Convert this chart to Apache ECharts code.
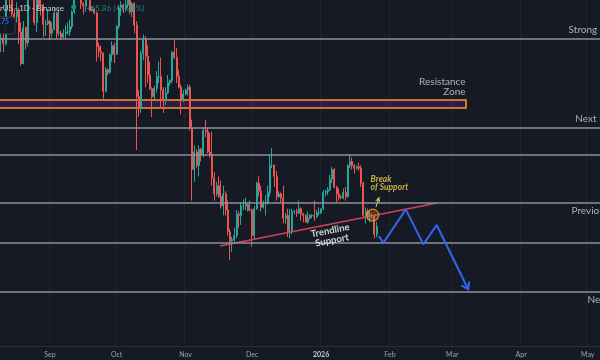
<!DOCTYPE html>
<html><head><meta charset="utf-8">
<script src="https://cdn.jsdelivr.net/npm/echarts@6/dist/echarts.min.js"></script>
<style>html,body{margin:0;padding:0;background:#161a25;overflow:hidden}#c{width:600px;height:360px}</style>
</head><body><div id="c"></div>
<script>
// ---- axis / calendar ----
const chartStart = '2025-07-31';
const totalDays = 280;            // category slots (one per day)
const candleStartIndex = 10;      // 2025-08-10
const monthNames = {'01':'Jan','02':'Feb','03':'Mar','04':'Apr','05':'May','06':'Jun','07':'Jul','08':'Aug','09':'Sep','10':'Oct','11':'Nov','12':'Dec'};

// ---- daily candles [open, high, low, close] ----
const aug = [
 [4255,4330,4160,4263],[4263,4370,4160,4222],[4222,4620,4210,4600],[4600,4790,4590,4770],
 [4770,4790,4460,4550],[4550,4680,4370,4442],[4442,4480,4400,4422],[4422,4530,4380,4475],
 [4475,4490,4220,4310],[4310,4380,4060,4075],[4075,4390,4070,4340],[4340,4350,4180,4230],
 [4230,4880,4200,4830],[4830,4840,4710,4780],[4780,4956,4700,4780],[4780,4790,4360,4380],
 [4380,4640,4310,4600],[4600,4650,4480,4510],[4510,4590,4430,4505],[4505,4520,4270,4365],
 [4365,4400,4280,4370],[4370,4480,4360,4390]
];
const sep = [
 [4390,4400,4250,4300],[4300,4380,4270,4330],[4330,4490,4320,4450],[4450,4460,4260,4300],
 [4300,4490,4280,4300],[4300,4320,4250,4270],[4270,4330,4260,4300],[4300,4360,4260,4310],
 [4310,4380,4290,4310],[4310,4400,4280,4350],[4350,4470,4330,4460],[4460,4720,4440,4710],
 [4710,4770,4640,4660],[4660,4680,4590,4600],[4600,4670,4480,4520],[4520,4530,4440,4500],
 [4500,4600,4460,4590],[4590,4640,4570,4590],[4590,4600,4460,4470],[4470,4500,4460,4480],
 [4480,4490,4440,4450],[4450,4460,4090,4200],[4200,4230,4120,4165],[4165,4210,4090,4150],
 [4150,4160,3815,3870],[3870,4050,3860,4030],[4030,4040,3990,4010],[4010,4150,4000,4140],
 [4140,4240,4090,4210],[4210,4230,4080,4145]
];
const oct = [
 [4145,4360,4140,4350],[4350,4510,4330,4490],[4490,4540,4430,4510],[4510,4520,4450,4480],
 [4480,4590,4460,4510],[4510,4750,4490,4690],[4690,4750,4440,4460],[4460,4530,4420,4520],
 [4520,4530,4300,4360],[4360,4390,3435,3830],[3830,3880,3680,3750],[3750,4170,3710,4150],
 [4150,4290,4100,4250],[4250,4280,3900,4130],[4130,4210,3930,3990],[3990,4090,3880,3890],
 [3890,3900,3680,3830],[3830,3910,3810,3890],[3890,4020,3860,3980],[3980,4090,3930,3980],
 [3980,4120,3740,3880],[3880,3900,3710,3800],[3800,3900,3770,3860],[3860,3990,3850,3935],
 [3935,3960,3910,3950],[3950,4170,3930,4160],[4160,4250,4110,4120],[4120,4190,3930,3980],
 [3980,4030,3890,3900],[3900,3920,3700,3810],[3810,3880,3790,3850]
];
const nov = [
 [3850,3890,3840,3880],[3880,3920,3840,3900],[3900,3920,3580,3600],[3600,3660,3060,3290],
 [3290,3470,3200,3420],[3420,3440,3300,3320],[3320,3470,3240,3440],[3440,3450,3350,3400],
 [3400,3600,3380,3580],[3580,3660,3530,3570],[3570,3600,3410,3420],[3420,3560,3380,3400],
 [3400,3570,3170,3230],[3230,3270,3060,3110],[3110,3200,3090,3170],[3170,3240,3080,3090],
 [3090,3210,3000,3020],[3020,3170,2950,3110],[3110,3130,2950,2990],[2990,3060,2800,2830],
 [2830,2850,2620,2760],[2760,2790,2680,2770],[2770,2860,2750,2800],[2800,2990,2780,2960],
 [2960,2980,2860,2950],[2950,3050,2880,3020],[3020,3070,2990,3020],[3020,3080,2990,3030],
 [3030,3040,2980,2990],[2990,3060,2980,2990]
];
const dec = [
 [2990,3000,2720,2800],[2800,3020,2770,3000],[3000,3200,2990,3190],[3190,3240,3090,3130],
 [3130,3170,2980,3010],[3010,3060,3000,3040],[3040,3100,2950,3050],[3050,3170,3030,3120],
 [3120,3400,3090,3320],[3320,3450,3300,3320],[3320,3330,3160,3240],[3240,3280,3060,3090],
 [3090,3130,3080,3110],[3110,3120,3050,3080],[3080,3170,2890,2930],[2930,2970,2890,2950],
 [2950,3000,2790,2830],[2830,3000,2780,2830],[2830,3000,2810,2980],[2980,2990,2960,2980],
 [2980,3000,2940,2970],[2970,3060,2960,3000],[3000,3010,2910,2960],[2960,2970,2900,2950],
 [2950,2960,2900,2900],[2900,2980,2890,2930],[2930,2960,2920,2950],[2950,2960,2930,2950],
 [2950,3060,2910,2940],[2940,2990,2930,2970],[2970,3010,2950,2970]
];
const jan = [
 [2970,3000,2960,3000],[3000,3140,2990,3120],[3120,3140,3090,3130],[3130,3160,3100,3140],
 [3140,3250,3130,3220],[3220,3310,3190,3290],[3290,3300,3150,3160],[3160,3170,3050,3110],
 [3110,3150,3060,3085],[3085,3100,3070,3080],[3080,3150,3070,3120],[3120,3160,3060,3090],
 [3090,3330,3080,3320],[3320,3400,3300,3350],[3350,3380,3290,3320],[3320,3330,3260,3300],
 [3300,3320,3290,3310],[3310,3340,3280,3300],[3300,3320,3160,3190],[3190,3200,2930,2950],
 [2950,3010,2890,2980],[2980,3000,2920,2950],[2950,2980,2900,2950],[2950,2970,2920,2950],
 [2950,2960,2780,2810],[2810,2900,2790,2870]
];

// ---- drawing annotations (x = day index from chartStart, y = price) ----
const levelPrices = [4258, 3598, 3398, 3042, 2746, 2383];
const levelLabels = [
 {text:'Strong Resistance', x:265.6, price:4258, dy:-8.5},
 {text:'Next Resistance',   x:268.6, price:3598, dy:-8.5},
 {text:'Previous Support',  x:266.9, price:3042, dy:8.5},
 {text:'Next Support',      x:274.1, price:2383, dy:8}
];
const zone = {x0:-0.5, x1:219.2, top:3805, bottom:3746};
const zoneLabel = {text:'Resistance\nZone', x:219.2, price:3898};
const trendline = [[108.5,2724],[206.2,3042]];
const trendLabel = {text:'Trendline\nSupport', x:158.7, price:2798};
const projection = [[180.05,2798],[182.0,2746],[192.1,2995],[200.0,2736],[206.0,2879],[220.2,2403]];
const breakPoint = [177.2,2953];
const breakArrow = [[178.7,3012],[180.1,3087]];
const breakLabel = {text:'Break\nof Support', x:176.5, price:3185};

// ---- build ----
const categories = [];
{
  const d0 = new Date(chartStart + 'T00:00:00Z');
  for (let i = 0; i < totalDays; i++) {
    const d = new Date(d0.getTime() + i * 86400000);
    categories.push(d.toISOString().slice(0,10));
  }
}
const allCandles = [].concat(aug, sep, oct, nov, dec, jan);
const candleData = allCandles.map((c, i) => [candleStartIndex + i, c[0], c[3], c[2], c[1]]);
const isMonthStart = (idx, val) => categories[idx] && categories[idx].slice(8) === '01';

const FONT = 'Lato, "Open Sans", sans-serif';
const chart = echarts.init(document.getElementById('c'), null, {renderer:'canvas'});
const option = {
  backgroundColor: '#161a25',
  animation: false,
  grid: {left: -22.222, right: 0, top: 0, bottom: 14, containLabel: false, outerBoundsMode: 'none'},
  xAxis: [{
    type: 'category', data: categories, boundaryGap: true,
    axisLine: {show: true, lineStyle: {color: '#2a2e39'}},
    axisTick: {show: false},
    axisLabel: {
      interval: isMonthStart, margin: 5, color: '#9ea1aa', fontSize: 7, fontFamily: FONT, hideOverlap: false,
      formatter: v => v.slice(5,7) === '01' ? '{y|' + v.slice(0,4) + '}' : monthNames[v.slice(5,7)],
      rich: {y: {fontWeight: 'bold', color: '#c9ccd4', fontSize: 7, fontFamily: FONT}}
    },
    splitLine: {show: true, interval: isMonthStart, lineStyle: {color: '#1f2330', width: 1}}
  }, {
    type: 'value', min: -0.5, max: totalDays - 0.5, show: false
  }],
  yAxis: [{
    type: 'value', min: 1982.6, max: 4546.5, show: false,
    splitLine: {show: false}
  }],
  series: [
    {
      type: 'candlestick', xAxisIndex: 0, yAxisIndex: 0, data: candleData,
      encode: {x: 0, y: [1,2,3,4]}, barWidth: 1.6, clip: true,
      itemStyle: {color: '#26a69a', color0: '#ef5350', borderColor: '#26a69a', borderColor0: '#ef5350', borderWidth: 1}
    },
    {
      type: 'line', xAxisIndex: 1, yAxisIndex: 0, data: [], silent: true,
      markLine: {
        silent: true, symbol: ['none','none'], label: {show: false}, animation: false,
        lineStyle: {color: '#8e919a', width: 1.5, type: 'solid'},
        data: levelPrices.map(p => ({yAxis: p}))
      },
      markArea: {
        silent: true,
        itemStyle: {color: 'rgba(106,27,154,0.35)', borderColor: '#f39c1f', borderWidth: 1.5},
        data: [[{coord: [zone.x0, zone.top]}, {coord: [zone.x1, zone.bottom]}]]
      }
    },
    {
      type: 'line', xAxisIndex: 1, yAxisIndex: 0, data: trendline, symbol: 'none', silent: true,
      lineStyle: {color: '#d0435b', width: 1.5}
    },
    {
      id: 'proj', type: 'line', xAxisIndex: 1, yAxisIndex: 0, data: projection, symbol: 'none', silent: true,
      lineStyle: {color: '#3366f0', width: 2}, z: 5
    },
    {
      type: 'scatter', xAxisIndex: 1, yAxisIndex: 0, data: [breakPoint], symbolSize: 12, silent: true,
      itemStyle: {color: 'rgba(255,152,0,0.28)', borderColor: '#f0a030', borderWidth: 1.2}, z: 6
    },
    {
      type: 'line', xAxisIndex: 1, yAxisIndex: 0, data: [], silent: true,
      markLine: {
        silent: true, symbol: ['none','arrow'], symbolSize: [4,5], label: {show: false},
        lineStyle: {color: '#d9c35a', width: 1, type: 'solid'},
        data: [[{coord: breakArrow[0]}, {coord: breakArrow[1]}]]
      }
    },
    {
      type: 'scatter', xAxisIndex: 1, yAxisIndex: 0, symbolSize: 1, silent: true, z: 10,
      itemStyle: {color: 'rgba(0,0,0,0)'},
      data: [].concat(
        levelLabels.map(l => ({value: [l.x, l.price], label: {show: true, formatter: l.text, position: [0, l.dy], align: 'left', verticalAlign: 'middle', color: '#d1d4dc', fontSize: 10, fontFamily: FONT}})),
        [{value: [zoneLabel.x, zoneLabel.price], label: {show: true, formatter: zoneLabel.text, position: [0,0], align: 'right', verticalAlign: 'middle', color: '#d1d4dc', fontSize: 10, lineHeight: 10, fontFamily: FONT}}],
        [{value: [trendLabel.x, trendLabel.price], label: {show: true, formatter: trendLabel.text, position: [0,0], align: 'center', verticalAlign: 'middle', rotate: 11, color: '#ffffff', fontSize: 9.5, fontWeight: 'bold', lineHeight: 10, fontFamily: FONT}}],
        [{value: [breakLabel.x, breakLabel.price], label: {show: true, formatter: breakLabel.text, position: [0,0], align: 'left', verticalAlign: 'middle', color: '#f2d64b', fontSize: 8.5, fontStyle: 'italic', fontWeight: 'bold', lineHeight: 8, fontFamily: FONT}}]
      )
    }
  ],
  graphic: [
    {type: 'text', x: 64, y: 8, style: {text: 'Ethereum / TetherUS · 1D · Binance', align: 'right', verticalAlign: 'middle', fill: '#c9ccd4', font: '8px ' + FONT}, z: 20},
    {type: 'circle', shape: {cx: 73.7, cy: 7, r: 2.5}, style: {fill: '#089981'}, z: 20},
    {type: 'text', x: 86, y: 8, style: {text: '+65.86 (+2.84%)', align: 'left', verticalAlign: 'middle', fill: 'rgba(38,166,154,0.75)', font: '8px ' + FONT}, z: 20},
    {type: 'rect', shape: {x: -30, y: 17, width: 45, height: 17, r: 3}, style: {fill: 'rgba(19,23,34,0.92)', stroke: '#3a3e4a', lineWidth: 1}, z: 20},
    {type: 'text', x: 9, y: 22, style: {text: '.75', align: 'right', verticalAlign: 'middle', fill: '#2962ff', font: 'bold 7px ' + FONT}, z: 21}
  ]
};
chart.setOption(option);

// open-V arrow head at the end of the projected path
(function () {
  const n = projection.length;
  const tip = chart.convertToPixel({seriesId: 'proj'}, projection[n-1]);
  const prev = chart.convertToPixel({seriesId: 'proj'}, projection[n-2]);
  const ang = Math.atan2(prev[1]-tip[1], prev[0]-tip[0]);
  const len = 8, spread = 0.6;
  const a1 = [tip[0] + len*Math.cos(ang+spread), tip[1] + len*Math.sin(ang+spread)];
  const a2 = [tip[0] + len*Math.cos(ang-spread), tip[1] + len*Math.sin(ang-spread)];
  chart.setOption({graphic: option.graphic.concat([
    {type: 'polyline', shape: {points: [a1, tip, a2]}, style: {stroke: '#3366f0', lineWidth: 2, fill: null}, z: 20}
  ])});
})();
</script>
</body></html>
